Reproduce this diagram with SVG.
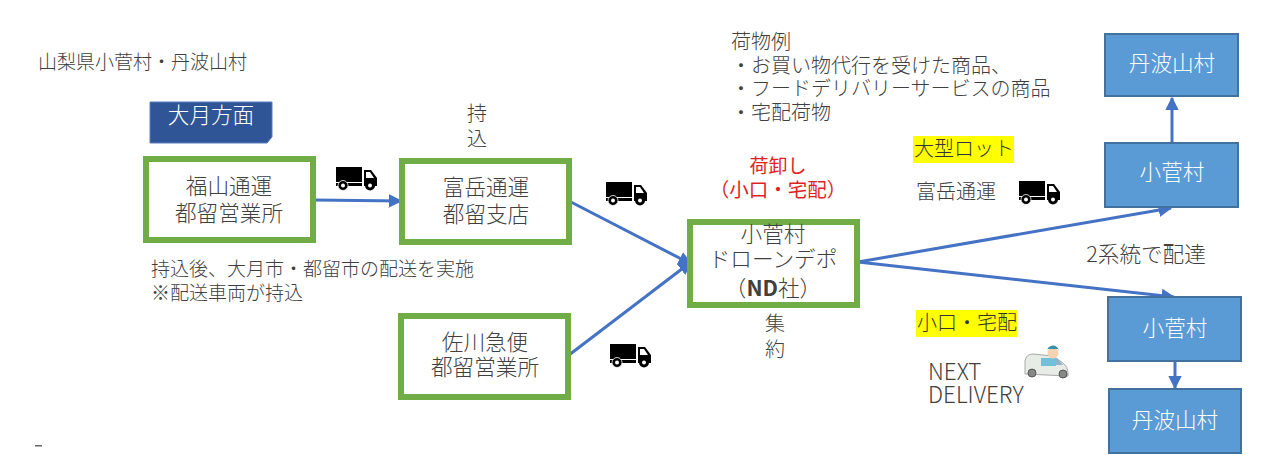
<svg xmlns="http://www.w3.org/2000/svg" width="1280" height="472" viewBox="0 0 1280 472">
<style>
text{font-family:"Noto Sans CJK JP","Noto Sans",sans-serif;font-size:20px;fill:#404040;text-anchor:middle;font-weight:300}
.s{text-anchor:start}
.n{font-size:21.6px}
.g{fill:#fff;stroke:#70ad47;stroke-width:6}
.b{fill:#5b9bd5;stroke:#41719c;stroke-width:2}
.w{fill:#fff;font-size:21.6px}
.c{fill:none;stroke:#4472c4;stroke-width:3;marker-end:url(#a)}
.y{fill:#ffff00}
.m{font-size:19px}
</style>
<defs>
<marker id="a" viewBox="0 0 10 10" refX="9" refY="5" markerWidth="4.6" markerHeight="4.6" orient="auto"><path d="M0 0L10 5L0 10Z" fill="#4472c4"/></marker>
<symbol id="t" viewBox="0 0 41 23" overflow="visible">
<path d="M0 0H26V15H0ZM0 16H26V19H0ZM28 3H35L41 11V19H38A5 5 0 0 0 29 19H28Z" fill="#000"/>
<path d="M30 5H34L38 11H30Z" fill="#fff"/>
<circle cx="7" cy="18.5" r="5" fill="#000" stroke="#fff" stroke-width="0.8"/><circle cx="7" cy="18.5" r="2" fill="#fff"/>
<circle cx="34" cy="18.5" r="5" fill="#000"/><circle cx="34" cy="18.5" r="2" fill="#fff"/>
</symbol>
</defs>
<rect width="1280" height="472" fill="#fff"/>
<g id="connectors">
<path class="c" d="M314 200L401 201"/>
<path class="c" d="M569 201L691 264"/>
<path class="c" d="M569 355L691 262"/>
<path class="c" d="M858 262L1171 208"/>
<path class="c" d="M858 262L1174 297"/>
<path class="c" d="M1172 142V98"/>
<path class="c" d="M1175 362V388"/>
</g>
<text class="s m" x="38" y="69">山梨県小菅村・丹波山村</text>
<g id="oote"><path d="M150 102H272V137L267 143H150Z" fill="#2f5597" stroke="#5b7fc0"/><text x="211" y="123" class="w">大月方面</text></g>
<g id="fukuyama"><rect class="g" x="146" y="159" width="167" height="81"/><text class="n"><tspan x="229" y="194">福山通運</tspan><tspan x="229" y="221">都留営業所</tspan></text></g>
<g id="tomitake"><rect class="g" x="402" y="161" width="167" height="81"/><text class="n"><tspan x="486" y="195">富岳通運</tspan><tspan x="486" y="222">都留支店</tspan></text></g>
<g id="sagawa"><rect class="g" x="401" y="316" width="167" height="81"/><text class="n"><tspan x="485" y="350">佐川急便</tspan><tspan x="485" y="375">都留営業所</tspan></text></g>
<g id="depot"><rect class="g" x="690" y="222" width="167" height="83"/><text class="n"><tspan x="773" y="242">小菅村</tspan><tspan x="773" y="267">ドローンデポ</tspan><tspan x="773" y="296">（<tspan font-weight="700">ND</tspan>社）</tspan></text></g>
<g id="tabayama-top"><rect class="b" x="1105" y="34" width="133" height="62"/><text class="w" x="1172" y="71">丹波山村</text></g>
<g id="kosuge-top"><rect class="b" x="1105" y="143" width="133" height="64"/><text class="w" x="1172" y="180">小菅村</text></g>
<g id="kosuge-bottom"><rect class="b" x="1108" y="297" width="133" height="64"/><text class="w" x="1175" y="336">小菅村</text></g>
<g id="tabayama-bottom"><rect class="b" x="1109" y="389" width="132" height="64"/><text class="w" x="1175" y="428">丹波山村</text></g>
<use href="#t" x="336" y="167" width="41" height="23"/>
<use href="#t" x="606" y="182" width="41" height="23"/>
<use href="#t" x="610" y="344" width="41" height="23"/>
<use href="#t" x="1019" y="181" width="41" height="23"/>
<g id="van">
<path d="M1025 361Q1026 354 1033 354L1053 356L1063 363Q1068 367 1068 372V376L1025 374Z" fill="#e8ece6" stroke="#a8a8a8"/>
<path d="M1050 357L1057 358L1063 365H1050Z" fill="#8fb4c8"/>
<path d="M1041 358H1056V366H1041Z" fill="#6fc0d8"/>
<circle cx="1053" cy="353" r="5.5" fill="#f6d2b0"/><path d="M1047 352A6 6 0 0 1 1059 351V349H1047Z" fill="#3c8fa8"/>
<circle cx="1032" cy="373" r="4" fill="#888" stroke="#555"/><circle cx="1063" cy="374" r="4" fill="#888" stroke="#555"/>
</g>
<text><tspan x="477" y="121">持</tspan><tspan x="477" y="146">込</tspan></text>
<text><tspan x="775" y="331">集</tspan><tspan x="775" y="357">約</tspan></text>
<text class="s m"><tspan x="151" y="276">持込後、大月市・都留市の配送を実施</tspan><tspan x="151" y="300">※配送車両が持込</tspan></text>
<text class="s"><tspan x="731" y="49">荷物例</tspan><tspan x="731" y="73">・お買い物代行を受けた商品、</tspan><tspan x="731" y="96">・フードデリバリーサービスの商品</tspan><tspan x="731" y="120">・宅配荷物</tspan></text>
<text class="m" style="fill:#e01f1f;font-weight:400"><tspan x="778" y="173">荷卸し</tspan><tspan x="778" y="197" style="font-size:19.5px">（小口・宅配）</tspan></text>
<rect class="y" x="913" y="136" width="101" height="27"/>
<text x="964" y="156" style="fill:#333">大型ロット</text>
<text x="956" y="199">富岳通運</text>
<text x="1146" y="262" style="font-size:21.6px">2系統で配達</text>
<rect class="y" x="916" y="310" width="101" height="27"/>
<text x="967" y="330" style="fill:#333">小口・宅配</text>
<text class="s" style="font-size:22.4px"><tspan x="928" y="380">NEXT</tspan><tspan x="928" y="403">DELIVERY</tspan></text>
<rect x="35" y="445" width="7" height="1.5" fill="#666"/>
</svg>
